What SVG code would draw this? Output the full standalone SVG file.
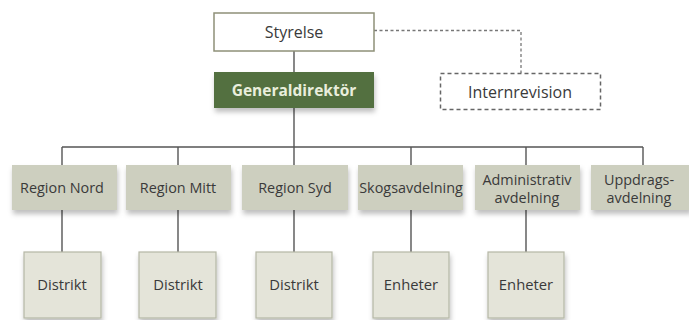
<svg xmlns="http://www.w3.org/2000/svg" width="689" height="320" viewBox="0 0 689 320">
<style>
text{font-family:"Open Sans","Liberation Sans",sans-serif;font-size:14.4px;fill:#3a3a3a;text-anchor:middle}
.big{font-size:16px}
.leaft{font-size:14.8px}
.line{stroke:#555;stroke-width:1.4;fill:none}
.dash{stroke:#777;stroke-width:1.3;fill:none;stroke-dasharray:3,2.5}
.reg{fill:#cdcfbf}
.leaf{fill:#e4e4d9;stroke:#b5b7a6;stroke-width:1.2}
</style>
<defs>
<filter id="sh" x="-20%" y="-20%" width="140%" height="160%">
<feDropShadow dx="1" dy="4" stdDeviation="2.5" flood-color="#000" flood-opacity="0.25"/>
</filter>
</defs>
<g id="connectors">
<line class="line" x1="294" y1="51" x2="294" y2="72"/>
<line class="line" x1="294" y1="108" x2="294" y2="147"/>
<line class="line" x1="62" y1="147" x2="643" y2="147"/>
<line class="line" x1="62" y1="147" x2="62" y2="165"/>
<line class="line" x1="178" y1="147" x2="178" y2="165"/>
<line class="line" x1="294" y1="147" x2="294" y2="165"/>
<line class="line" x1="411" y1="147" x2="411" y2="165"/>
<line class="line" x1="526" y1="147" x2="526" y2="165"/>
<line class="line" x1="643" y1="147" x2="643" y2="165"/>
<line class="line" x1="62" y1="210" x2="62" y2="252"/>
<line class="line" x1="178" y1="210" x2="178" y2="252"/>
<line class="line" x1="294" y1="210" x2="294" y2="252"/>
<line class="line" x1="411" y1="210" x2="411" y2="252"/>
<line class="line" x1="526" y1="210" x2="526" y2="252"/>
<path class="dash" d="M374 30.5 H521 V73"/>
</g>
<g id="styrelse">
<rect x="214" y="13" width="160" height="38" fill="#fff" stroke="#8e9078" stroke-width="1.5"/>
<text class="big" x="294" y="38">Styrelse</text>
</g>
<g id="generaldirektor">
<rect x="214" y="72" width="160" height="36" fill="#53703f" filter="url(#sh)"/>
<text x="294" y="96" style="font-weight:bold;fill:#e9eedc;font-size:15.5px">Generaldirektör</text>
</g>
<g id="internrevision">
<rect x="440.5" y="73.5" width="160" height="36" fill="#fff" stroke="#666" stroke-width="1.5" stroke-dasharray="4,3"/>
<text class="big" x="520" y="98">Internrevision</text>
</g>
<g id="region-nord">
<rect class="reg" x="12" y="165" width="105" height="45" filter="url(#sh)"/>
<text x="62" y="193">Region Nord</text>
</g>
<g id="region-mitt">
<rect class="reg" x="126" y="165" width="105" height="45" filter="url(#sh)"/>
<text x="178" y="193">Region Mitt</text>
</g>
<g id="region-syd">
<rect class="reg" x="242" y="165" width="106" height="45" filter="url(#sh)"/>
<text x="295" y="193">Region Syd</text>
</g>
<g id="skogsavdelning">
<rect class="reg" x="358" y="165" width="105" height="45" filter="url(#sh)"/>
<text x="411" y="193">Skogsavdelning</text>
</g>
<g id="administrativ">
<rect class="reg" x="475" y="165" width="105" height="45" filter="url(#sh)"/>
<text x="527" y="185">Administrativ</text>
<text x="527" y="203">avdelning</text>
</g>
<g id="uppdrags">
<rect class="reg" x="591" y="165" width="100" height="45" filter="url(#sh)"/>
<text x="639" y="185">Uppdrags-</text>
<text x="639" y="203">avdelning</text>
</g>
<g id="distrikt-1">
<rect class="leaf" x="24" y="252" width="77" height="66" filter="url(#sh)"/>
<text class="leaft" x="62" y="290">Distrikt</text>
</g>
<g id="distrikt-2">
<rect class="leaf" x="139" y="252" width="77" height="66" filter="url(#sh)"/>
<text class="leaft" x="178" y="290">Distrikt</text>
</g>
<g id="distrikt-3">
<rect class="leaf" x="256" y="252" width="76" height="66" filter="url(#sh)"/>
<text class="leaft" x="294" y="290">Distrikt</text>
</g>
<g id="enheter-1">
<rect class="leaf" x="373" y="252" width="76" height="66" filter="url(#sh)"/>
<text class="leaft" x="411" y="290">Enheter</text>
</g>
<g id="enheter-2">
<rect class="leaf" x="488" y="252" width="76" height="66" filter="url(#sh)"/>
<text class="leaft" x="526" y="290">Enheter</text>
</g>
</svg>
